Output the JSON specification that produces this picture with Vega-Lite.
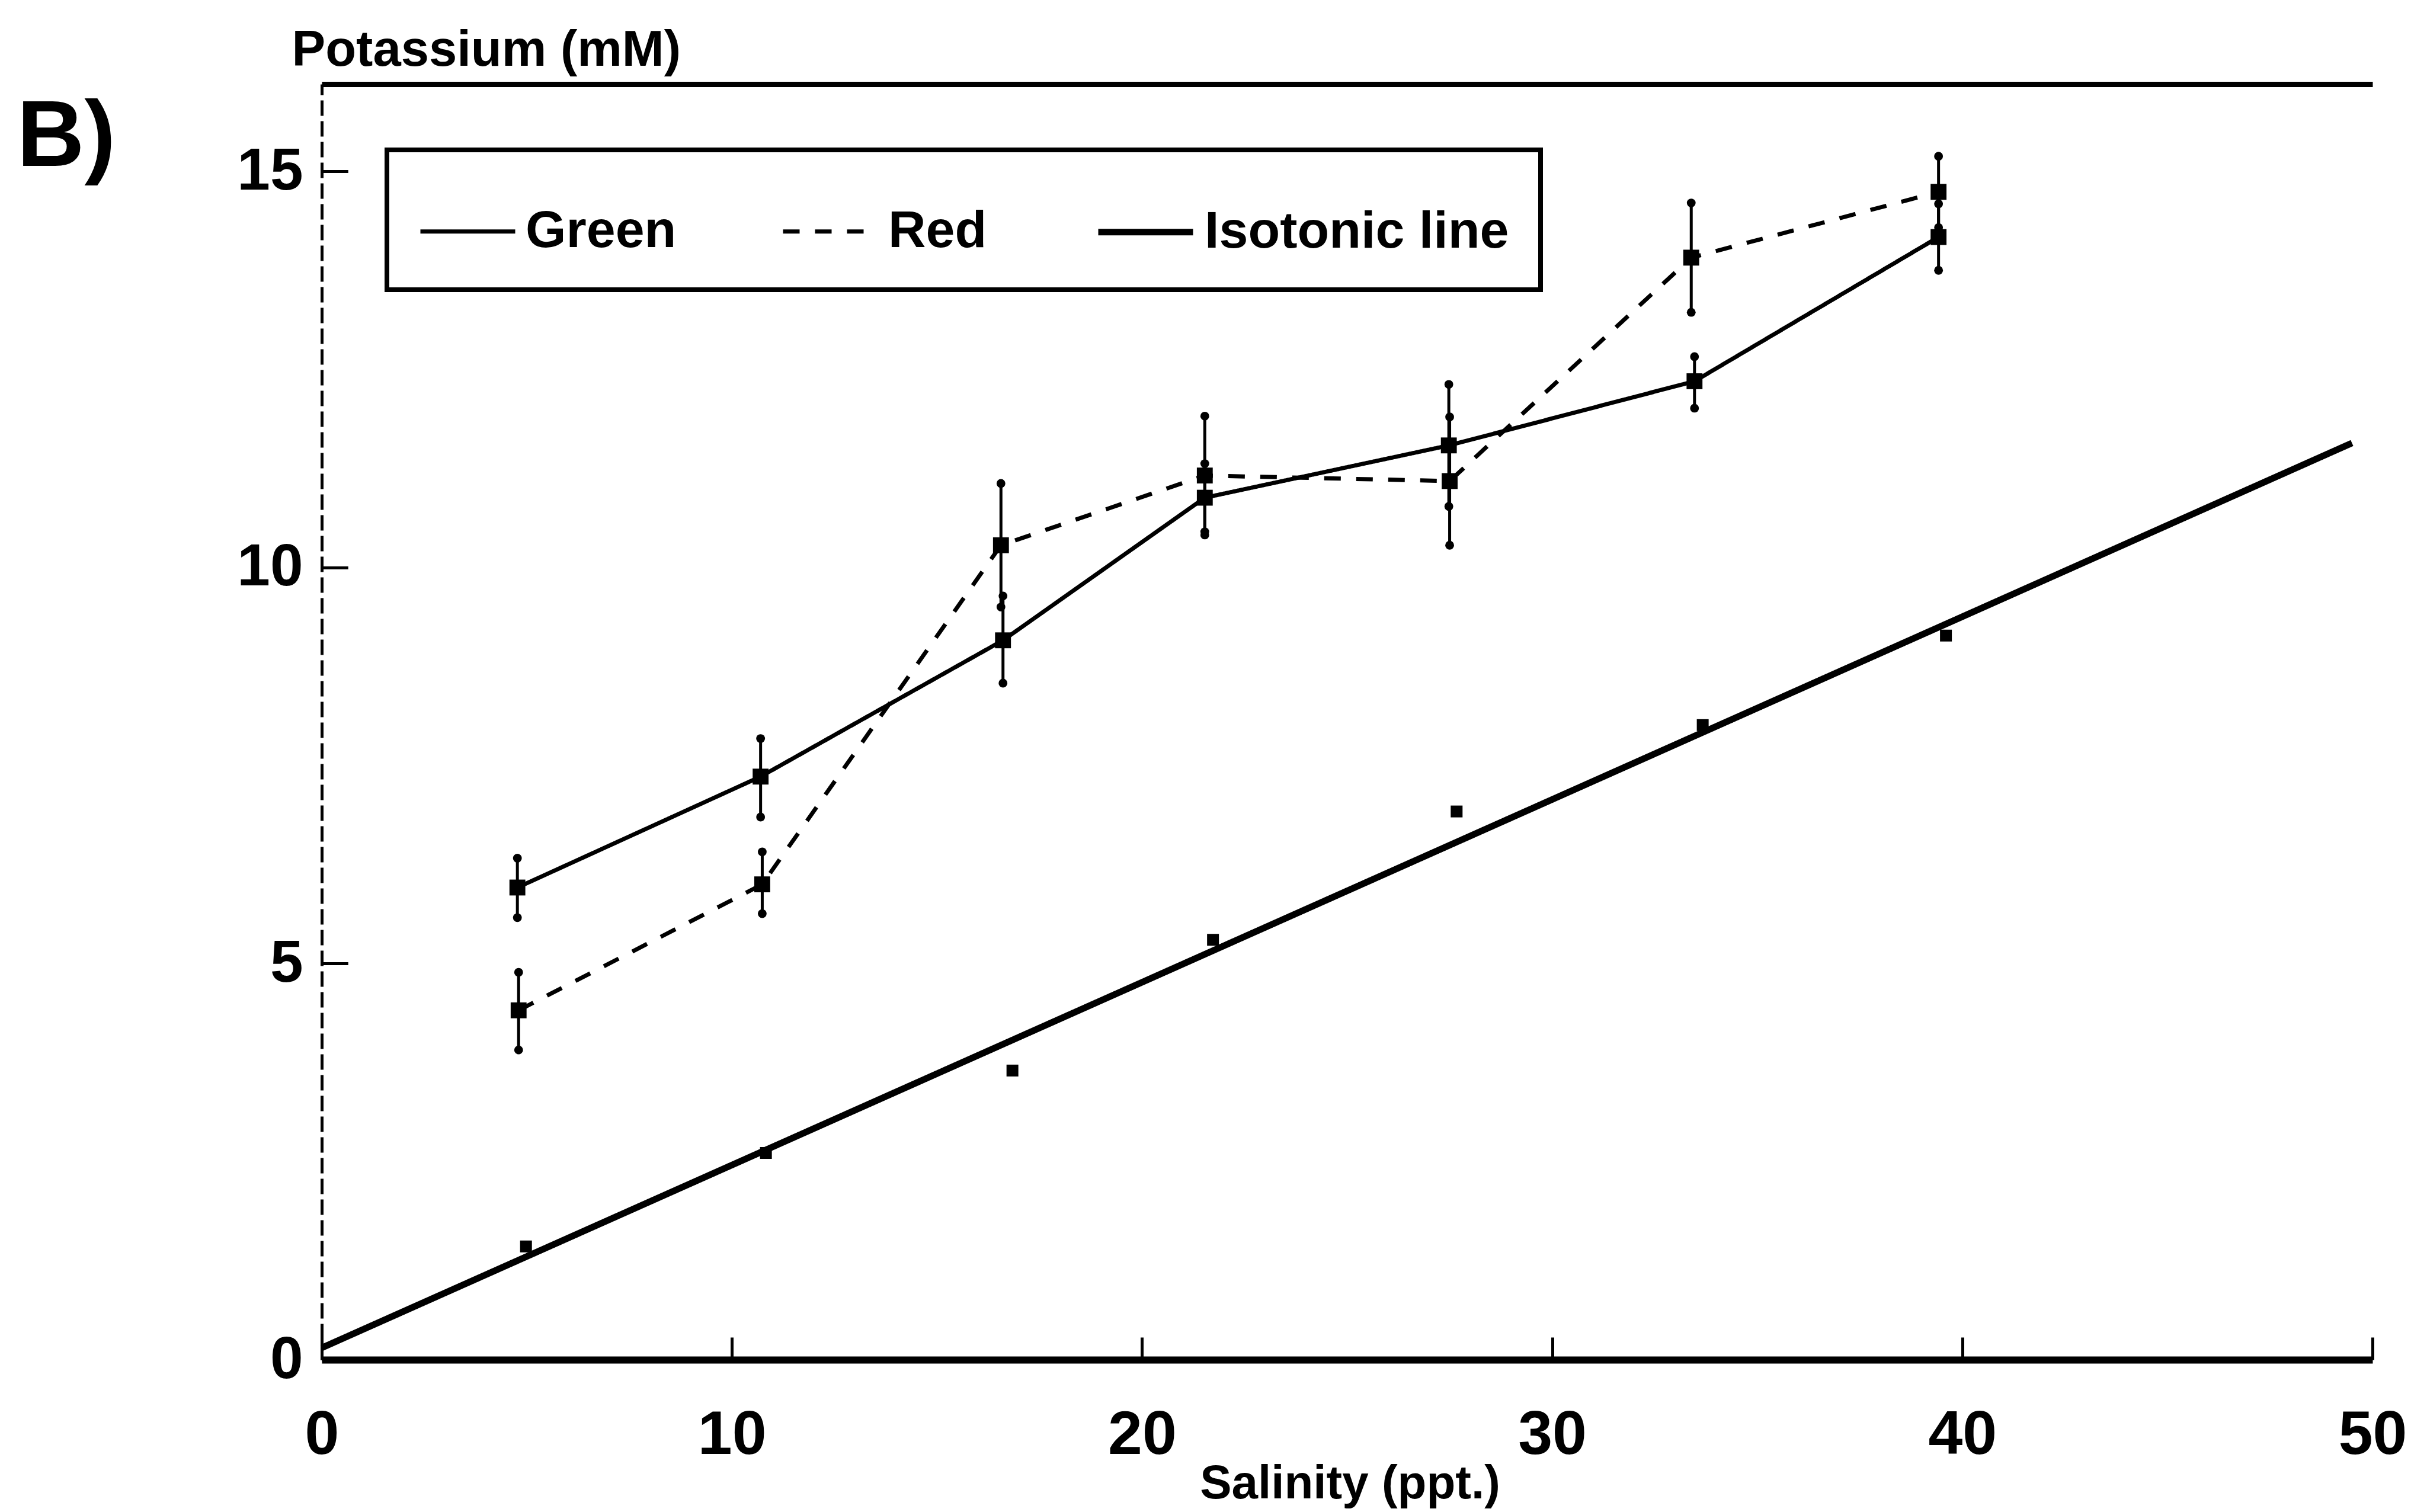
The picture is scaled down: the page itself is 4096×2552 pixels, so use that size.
{
  "$schema": "https://vega.github.io/schema/vega-lite/v6.json",
  "width": 3461,
  "height": 2153,
  "autosize": {"type": "none"},
  "padding": {"left": 543, "top": 142, "right": 92, "bottom": 257},
  "background": "white",
  "config": {
    "view": {"stroke": null},
    "font": "Liberation Sans",
    "axis": {"grid": false}
  },
  "datasets": {
    "series": [
      {"series": "Green", "salinity": 4.77, "k": 5.96, "lo": 5.58, "hi": 6.33},
      {"series": "Green", "salinity": 10.7, "k": 7.36, "lo": 6.85, "hi": 7.84},
      {"series": "Green", "salinity": 16.61, "k": 9.08, "lo": 8.54, "hi": 9.64},
      {"series": "Green", "salinity": 21.53, "k": 10.88, "lo": 10.45, "hi": 11.31},
      {"series": "Green", "salinity": 27.48, "k": 11.54, "lo": 10.77, "hi": 12.31},
      {"series": "Green", "salinity": 33.47, "k": 12.35, "lo": 12.01, "hi": 12.66},
      {"series": "Green", "salinity": 39.42, "k": 14.17, "lo": 13.75, "hi": 14.59},
      {"series": "Red", "salinity": 4.8, "k": 4.41, "lo": 3.91, "hi": 4.89},
      {"series": "Red", "salinity": 10.74, "k": 6.0, "lo": 5.63, "hi": 6.41},
      {"series": "Red", "salinity": 16.56, "k": 10.28, "lo": 9.5, "hi": 11.06},
      {"series": "Red", "salinity": 21.53, "k": 11.16, "lo": 10.41, "hi": 11.91},
      {"series": "Red", "salinity": 27.5, "k": 11.09, "lo": 10.28, "hi": 11.9},
      {"series": "Red", "salinity": 33.39, "k": 13.91, "lo": 13.22, "hi": 14.6},
      {"series": "Red", "salinity": 39.42, "k": 14.74, "lo": 14.29, "hi": 15.19},
      {"series": "Isotonic line", "salinity": 0, "k": 0.15},
      {"series": "Isotonic line", "salinity": 49.5, "k": 11.57}
    ],
    "seawater": [
      {"salinity": 4.98, "k": 1.43},
      {"salinity": 10.83, "k": 2.61},
      {"salinity": 16.84, "k": 3.65},
      {"salinity": 21.73, "k": 5.3},
      {"salinity": 27.67, "k": 6.92},
      {"salinity": 33.67, "k": 8.01},
      {"salinity": 39.6, "k": 9.14}
    ]
  },
  "resolve": {"axis": {"x": "independent", "y": "independent"}},
  "layer": [
    {
      "data": {"name": "series"},
      "mark": {"type": "line", "color": "black"},
      "encoding": {
        "x": {
          "field": "salinity", "type": "quantitative",
          "scale": {"domain": [0, 50], "nice": false, "zero": false},
          "axis": {
            "orient": "bottom",
            "values": [0, 10, 20, 30, 40, 50],
            "domainColor": "black", "domainWidth": 12,
            "tickColor": "black", "tickWidth": 5, "tickSize": -38,
            "labelFont": "Liberation Sans", "labelFontWeight": "bold", "labelFontSize": 104,
            "labelColor": "black", "labelBaseline": "alphabetic", "labelPadding": 196,
            "labelFlush": false, "labelOverlap": false,
            "title": "Salinity (ppt.)",
            "titleFont": "Liberation Sans", "titleFontWeight": "bold", "titleFontSize": 80,
            "titleColor": "black", "titleX": 1735, "titleY": 233,
            "titleAlign": "center", "titleBaseline": "alphabetic"
          }
        },
        "y": {
          "field": "k", "type": "quantitative",
          "scale": {"domain": [0, 16.1], "nice": false, "zero": false},
          "axis": {
            "orient": "left",
            "values": [0, 5, 10, 15],
            "format": "d",
            "domain": true, "domainColor": "black", "domainWidth": 5, "domainDash": [26, 9],
            "ticks": true, "tickColor": "black", "tickOpacity": 1, "tickWidth": 5, "tickSize": -44,
            "labels": true, "labelLimit": 0,
            "labelFont": "Liberation Sans", "labelFontWeight": "bold", "labelFontSize": 100,
            "labelColor": "black", "labelPadding": 76, "labelBaseline": "middle",
            "labelFlush": false, "labelOverlap": false,
            "title": "Potassium (mM)",
            "titleFont": "Liberation Sans", "titleFontWeight": "bold", "titleFontSize": 85,
            "titleColor": "black", "titleAngle": 0, "titleAlign": "left",
            "titleBaseline": "alphabetic", "titleX": -51, "titleY": -32
          }
        },
        "strokeDash": {
          "field": "series", "type": "ordinal",
          "scale": {"type": "ordinal", "domain": ["Green", "Red", "Isotonic line"], "range": [[1, 0], [28, 26], [1, 0]]},
          "legend": {
            "orient": "none", "legendX": 110, "legendY": 111, "direction": "horizontal",
            "title": null, "strokeColor": "black", "fillColor": "white",
            "padding": 53, "symbolType": "stroke", "symbolSize": 25600,
            "symbolStrokeColor": "black", "labelFont": "Liberation Sans",
            "labelFontWeight": "bold", "labelFontSize": 88, "labelColor": "black",
            "labelOffset": 14, "columnPadding": 165, "labelLimit": 0,
            "encode": {"legend": {"update": {"strokeWidth": {"value": 8}}}}
          }
        },
        "strokeWidth": {
          "field": "series", "type": "ordinal",
          "scale": {"type": "ordinal", "domain": ["Green", "Red", "Isotonic line"], "range": [7, 7, 11]},
          "legend": {
            "orient": "none", "legendX": 110, "legendY": 111, "direction": "horizontal",
            "title": null, "strokeColor": "black", "fillColor": "white",
            "padding": 53, "symbolType": "stroke", "symbolSize": 25600,
            "symbolStrokeColor": "black", "labelFont": "Liberation Sans",
            "labelFontWeight": "bold", "labelFontSize": 88, "labelColor": "black",
            "labelOffset": 14, "columnPadding": 165, "labelLimit": 0,
            "encode": {"legend": {"update": {"strokeWidth": {"value": 8}}}}
          }
        }
      }
    },
    {
      "data": {"name": "series"},
      "transform": [{"filter": {"field": "series", "oneOf": ["Green", "Red"]}}],
      "mark": {"type": "rule", "color": "black", "strokeWidth": 5},
      "encoding": {
        "x": {"field": "salinity", "type": "quantitative", "axis": null},
        "y": {"field": "lo", "type": "quantitative", "axis": null},
        "y2": {"field": "hi"}
      }
    },
    {
      "data": {"name": "series"},
      "transform": [{"filter": {"field": "series", "oneOf": ["Green", "Red"]}}],
      "mark": {"type": "circle", "color": "black", "size": 220, "opacity": 1},
      "encoding": {
        "x": {"field": "salinity", "type": "quantitative", "axis": null},
        "y": {"field": "lo", "type": "quantitative", "axis": null}
      }
    },
    {
      "data": {"name": "series"},
      "transform": [{"filter": {"field": "series", "oneOf": ["Green", "Red"]}}],
      "mark": {"type": "circle", "color": "black", "size": 220, "opacity": 1},
      "encoding": {
        "x": {"field": "salinity", "type": "quantitative", "axis": null},
        "y": {"field": "hi", "type": "quantitative", "axis": null}
      }
    },
    {
      "data": {"name": "series"},
      "transform": [{"filter": {"field": "series", "oneOf": ["Green", "Red"]}}],
      "mark": {"type": "square", "color": "black", "size": 720, "opacity": 1},
      "encoding": {
        "x": {"field": "salinity", "type": "quantitative", "axis": null},
        "y": {"field": "k", "type": "quantitative", "axis": null}
      }
    },
    {
      "data": {"name": "seawater"},
      "mark": {"type": "square", "color": "black", "size": 400, "opacity": 1},
      "encoding": {
        "x": {
          "field": "salinity", "type": "quantitative",
          "axis": {
            "orient": "top", "domain": true, "domainColor": "black", "domainWidth": 9,
            "ticks": false, "labels": false,
            "title": "B)", "titleX": -515, "titleY": 137, "titleAngle": 0,
            "titleAlign": "left", "titleBaseline": "alphabetic",
            "titleFont": "Liberation Sans", "titleFontWeight": "bold",
            "titleFontSize": 158, "titleColor": "black"
          }
        },
        "y": {
          "field": "k", "type": "quantitative",
          "axis": {
            "orient": "right", "offset": -3461,
            "values": [5, 10, 15],
            "domain": false, "labels": false, "title": null, "grid": false,
            "ticks": true, "tickColor": "black", "tickOpacity": 1, "tickWidth": 5, "tickSize": 44
          }
        }
      }
    }
  ]
}
